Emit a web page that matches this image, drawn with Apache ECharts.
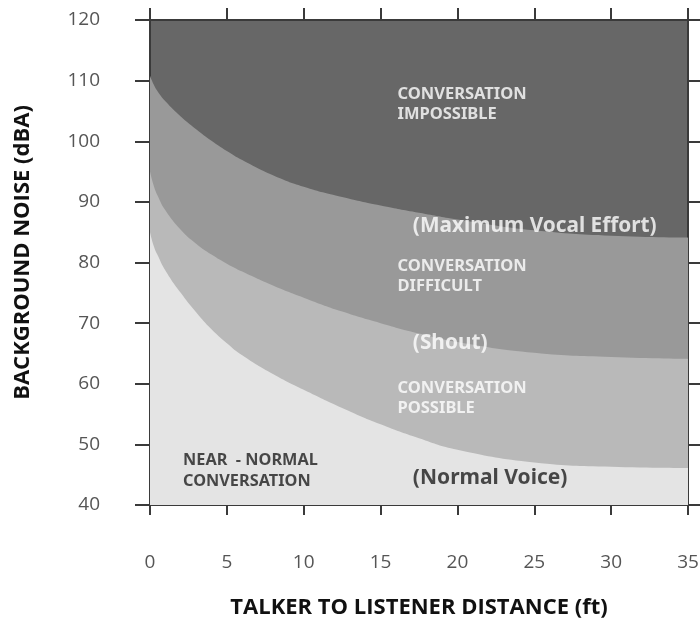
<!DOCTYPE html>
<html>
<head>
<meta charset="utf-8">
<script src="https://cdn.jsdelivr.net/npm/echarts@6/dist/echarts.min.js"></script>
<style>
html,body{margin:0;padding:0;background:#fff;}
#chart{width:700px;height:622px;}
</style>
</head>
<body>
<div id="chart"></div>
<script>
// Distances (ft)
const distances = [0, 0.25, 0.5, 1, 2, 3, 4, 5, 6, 8, 10, 12.5, 15, 17.5, 20, 25, 30, 35];
// Boundary curves (dBA)
const maxVocalEffort = [110.8, 109.3, 108.2, 106.6, 104.1, 102, 100.1, 98.4, 96.9, 94.4, 92.5, 90.8, 89.4, 88.2, 87.1, 85.3, 84.4, 84.1];
const shout = [95, 92.6, 91, 88.6, 85.4, 83.1, 81.3, 79.8, 78.5, 76.2, 74.2, 71.9, 70, 68.3, 66.9, 65.1, 64.4, 64.1];
const normalVoice = [85, 82.7, 81.2, 78.7, 75, 71.8, 69, 66.7, 64.7, 61.6, 59, 56, 53.3, 51, 49.1, 47, 46.3, 46.1];

const xTicks = [0, 35, 5];   // min, max, interval
const yTicks = [40, 120, 10];

// Region / curve annotations: [x, y, text, style]
const annotations = [
  [16.1, 106.1, 'CONVERSATION\nIMPOSSIBLE', 'region-light'],
  [17.1, 86.0, '(Maximum Vocal Effort)', 'curve-light'],
  [16.1, 77.7, 'CONVERSATION\nDIFFICULT', 'region-light'],
  [17.1, 66.7, '(Shout)', 'curve-light'],
  [16.1, 57.6, 'CONVERSATION\nPOSSIBLE', 'region-light'],
  [17.1, 44.4, '(Normal Voice)', 'curve-dark'],
  [2.15, 45.6, 'NEAR  - NORMAL\nCONVERSATION', 'region-dark']
];

const pairs = vals => distances.map((d, i) => [d, vals[i]]);

const labelStyles = {
  'region-light': {color: '#ffffff', fontSize: 16.5, fontWeight: 'bold', lineHeight: 20},
  'curve-light': {color: '#ffffff', fontSize: 20.8, fontWeight: 'bold', lineHeight: 22},
  'region-dark': {color: '#1e1e1e', fontSize: 16.3, fontWeight: 'bold', lineHeight: 21},
  'curve-dark': {color: '#1e1e1e', fontSize: 21, fontWeight: 'bold', lineHeight: 22}
};

const chart = echarts.init(document.getElementById('chart'), null, {renderer: 'canvas'});

const axisLineStyle = {color: '#3a3a3a', width: 2};
const fontFam = '"Noto Sans", "DejaVu Sans", sans-serif';

const areaSeries = (name, vals, color) => ({
  name: name,
  type: 'line',
  data: pairs(vals),
  smooth: 0.5,
  showSymbol: false,
  symbol: 'none',
  lineStyle: {width: 0},
  areaStyle: {color: color, opacity: 1, origin: 'start'},
  silent: true,
  z: 2
});

chart.setOption({
  animation: false,
  backgroundColor: '#ffffff',
  grid: {left: 150, right: 12, top: 20, bottom: 117, show: true, backgroundColor: '#676767', borderWidth: 0, containLabel: false, outerBoundsMode: 'none'},
  xAxis: [
    {
      type: 'value', position: 'bottom', min: xTicks[0], max: xTicks[1], interval: xTicks[2],
      name: 'TALKER TO LISTENER DISTANCE (ft)', nameLocation: 'middle', nameGap: 92,
      nameTextStyle: {fontSize: 22, fontWeight: 'bold', color: '#111', fontFamily: '"Open Sans", sans-serif'},
      axisLine: {show: true, onZero: false, lineStyle: axisLineStyle},
      axisTick: {show: true, inside: false, length: 10, lineStyle: axisLineStyle},
      axisLabel: {margin: 48, fontSize: 19, color: '#555', fontFamily: '"Open Sans", sans-serif'},
      splitLine: {show: false}
    },
    {
      type: 'value', position: 'top', min: xTicks[0], max: xTicks[1], interval: xTicks[2],
      axisLine: {show: true, onZero: false, lineStyle: axisLineStyle},
      axisTick: {show: true, inside: false, length: 12, lineStyle: axisLineStyle},
      axisLabel: {show: false},
      splitLine: {show: false}
    }
  ],
  yAxis: [
    {
      type: 'value', position: 'left', min: yTicks[0], max: yTicks[1], interval: yTicks[2],
      name: 'BACKGROUND NOISE (dBA)', nameLocation: 'middle', nameGap: 116,
      nameTextStyle: {fontSize: 22, fontWeight: 'bold', color: '#111', fontFamily: '"Open Sans", sans-serif', padding: [0, 0, 0, 20]},
      axisLine: {show: true, onZero: false, lineStyle: axisLineStyle},
      axisTick: {show: true, inside: false, length: 15, lineStyle: axisLineStyle},
      axisLabel: {margin: 50, fontSize: 19, color: '#555', fontFamily: '"Open Sans", sans-serif', align: 'right'},
      splitLine: {show: false}
    },
    {
      type: 'value', position: 'right', min: yTicks[0], max: yTicks[1], interval: yTicks[2],
      axisLine: {show: true, onZero: false, lineStyle: axisLineStyle},
      axisTick: {show: true, inside: false, length: 12, lineStyle: axisLineStyle},
      axisLabel: {show: false},
      splitLine: {show: false}
    }
  ],
  series: [
    areaSeries('Maximum Vocal Effort', maxVocalEffort, '#999999'),
    areaSeries('Shout', shout, '#b9b9b9'),
    areaSeries('Normal Voice', normalVoice, '#e4e4e4'),
    {
      type: 'scatter',
      silent: true,
      symbolSize: 0,
      z: 5,
      data: annotations.map(a => ({
        value: [a[0], a[1]],
        label: Object.assign({
          show: true, position: 'right', distance: 0, formatter: a[2],
          fontFamily: fontFam, align: 'left', verticalAlign: 'middle'
        }, labelStyles[a[3]])
      }))
    }
  ]
});
</script>
</body>
</html>
